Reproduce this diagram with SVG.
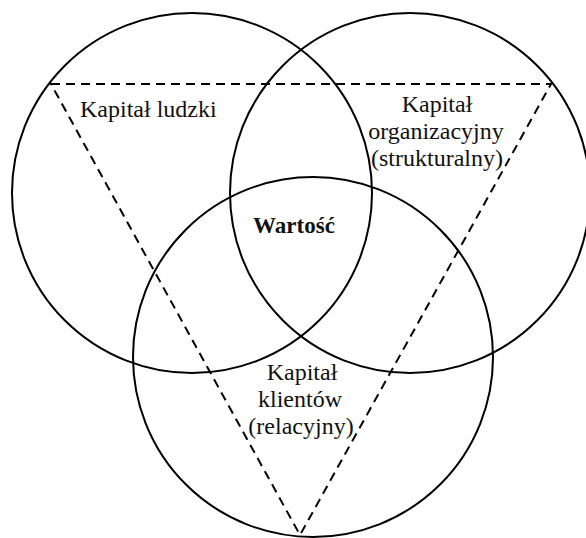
<svg xmlns="http://www.w3.org/2000/svg" width="586" height="538" viewBox="0 0 586 538">
<style>
.c{fill:none;stroke:#000;stroke-width:2}
.t{font-family:"Liberation Serif","Times New Roman",serif;font-size:24px;fill:#111}
.m{text-anchor:middle}
.b{font-weight:bold;font-size:23px}
.d{fill:none;stroke:#000;stroke-width:2;stroke-dasharray:9 6}
</style>
<rect width="586" height="538" fill="#fff"/>
<g id="triangle">
<polygon class="d" points="51,84 551,84 300,535"/>
</g>
<g id="human-capital">
<circle class="c" cx="192" cy="193" r="180"/>
<text class="t" x="80" y="117">Kapitał ludzki</text>
</g>
<g id="organizational-capital">
<circle class="c" cx="410" cy="193" r="180"/>
<text class="t m" x="437" y="112">Kapitał</text>
<text class="t m" x="436" y="139">organizacyjny</text>
<text class="t m" x="437" y="166">(strukturalny)</text>
</g>
<g id="client-capital">
<circle class="c" cx="313" cy="357" r="180"/>
<text class="t m" x="302" y="380">Kapitał</text>
<text class="t m" x="300" y="407">klientów</text>
<text class="t m" x="301" y="434">(relacyjny)</text>
</g>
<g id="value">
<text class="t b m" x="294" y="233">Wartość</text>
</g>
</svg>
